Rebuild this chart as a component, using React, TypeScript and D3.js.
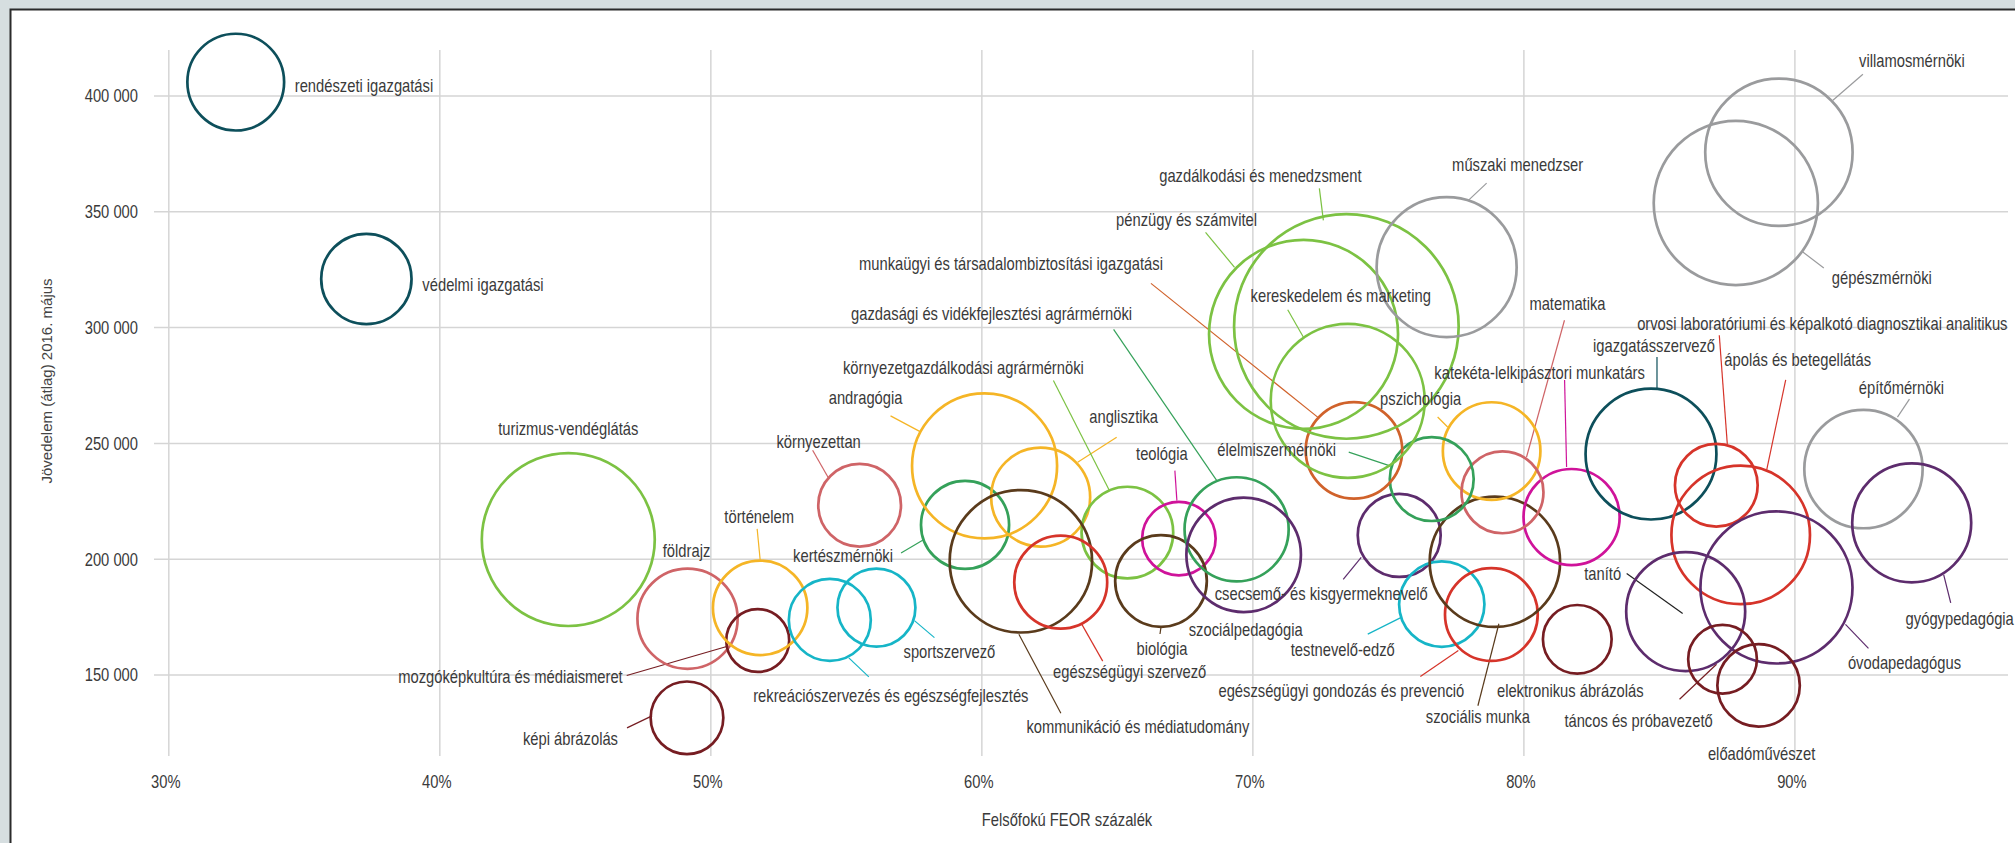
import React, { useRef, useEffect } from "react";
import * as d3 from "d3";

// szakok (majors)
const majors = [
    "rendészeti igazgatási",
    "védelmi igazgatási",
    "turizmus-vendéglátás",
    "földrajz",
    "képi ábrázolás",
    "mozgóképkultúra és médiaismeret",
    "történelem",
    "környezettan",
    "rekreációszervezés és egészségfejlesztés",
    "sportszervező",
    "kertészmérnöki",
    "andragógia",
    "anglisztika",
    "környezetgazdálkodási agrármérnöki",
    "kommunikáció és médiatudomány",
    "egészségügyi szervező",
    "teológia",
    "biológia",
    "gazdasági és vidékfejlesztési agrármérnöki",
    "szociálpedagógia",
    "csecsemő- és kisgyermeknevelő",
    "testnevelő-edző",
    "egészségügyi gondozás és prevenció",
    "szociális munka",
    "elektronikus ábrázolás",
    "katekéta-lelkipásztori munkatárs",
    "pszichológia",
    "matematika",
    "élelmiszermérnöki",
    "munkaügyi és társadalombiztosítási igazgatási",
    "gazdálkodási és menedzsment",
    "pénzügy és számvitel",
    "kereskedelem és marketing",
    "műszaki menedzser",
    "villamosmérnöki",
    "gépészmérnöki",
    "igazgatásszervező",
    "orvosi laboratóriumi és képalkotó diagnosztikai analitikus",
    "ápolás és betegellátás",
    "építőmérnöki",
    "gyógypedagógia",
    "óvodapedagógus",
    "tanító",
    "táncos és próbavezető",
    "előadóművészet",
];

// Felsőfokú FEOR százalék
const feorPct = [
    32.47, 37.29, 44.74, 49.14, 49.12, 51.73, 51.82, 55.49, 54.39, 56.11,
    59.38, 60.1, 62.17, 65.37, 61.44, 62.91, 67.27, 66.61, 69.4, 69.66,
    75.4, 76.97, 78.8, 78.93, 81.97, 81.76, 78.81, 79.21, 76.6, 73.73,
    73.45, 71.87, 73.5, 77.15, 89.41, 87.82, 84.69, 87.1, 88.0, 92.53,
    94.31, 89.32, 85.97, 87.33, 88.66,
];

// Jövedelem (átlag) 2016. május
const avgIncome = [
    406000, 321000, 208500, 174300, 131500, 164900, 179000, 223300, 173800, 179100,
    214800, 240300, 226800, 211500, 199100, 190100, 208900, 190600, 212900, 201900,
    210300, 180600, 176100, 198900, 165400, 218200, 246700, 228900, 234600, 247000,
    300500, 297100, 268400, 326100, 375700, 353800, 245400, 231900, 210500, 238900,
    215700, 187800, 177400, 156800, 145500,
];

// bubble size (relative number of graduates)
const graduates = [
    234, 204, 748, 251, 132, 99, 223, 171, 168, 152,
    194, 526, 245, 210, 507, 216, 135, 210, 271, 328,
    172, 182, 215, 425, 118, 231, 238, 168, 176, 233,
    1261, 893, 593, 490, 543, 674, 428, 171, 480, 350,
    354, 578, 354, 118, 170,
];

const xTicks = [30, 40, 50, 60, 70, 80, 90];
const yTicks = [150000, 200000, 250000, 300000, 350000, 400000];

const palette = {
    teal: "#0d4f5b",
    lightGreen: "#7cc243",
    green: "#35a15a",
    rose: "#cf6467",
    yellow: "#f5b526",
    darkRed: "#761d22",
    cyan: "#16b5c7",
    brown: "#5a3b1c",
    red: "#d6342a",
    magenta: "#cf139a",
    purple: "#5d2c6d",
    orange: "#d0622b",
    gray: "#9a9b9d",
};

const colorGroups: [keyof typeof palette, number[]][] = [
    ["teal", [0, 1, 36]],
    ["lightGreen", [2, 13, 30, 31, 32]],
    ["green", [10, 18, 28]],
    ["rose", [3, 7, 27]],
    ["yellow", [6, 11, 12, 26]],
    ["darkRed", [4, 5, 24, 43, 44]],
    ["cyan", [8, 9, 21]],
    ["brown", [14, 17, 23]],
    ["red", [15, 22, 37, 38]],
    ["magenta", [16, 25]],
    ["purple", [19, 20, 40, 41, 42]],
    ["orange", [29]],
    ["gray", [33, 34, 35, 39]],
];

// label placement relative to bubble centre: dx, dy, anchor, optional leader [x1, y1, x2, y2]
type Layout = [number, number, string, number[]?];
const labelLayout: Layout[] = [
    [59, 3, "start"],
    [56, 6, "start"],
    [0, -111, "middle"],
    [-1, -68, "middle"],
    [-69, 21, "end", [-60, 10, -35, -2]],
    [-135, 36, "end", [-131, 35, -31, 6]],
    [-1, -91, "middle", [-3, -79, 0, -48]],
    [-41, -64, "middle", [-47, -55, -31, -27]],
    [61, 76, "middle", [19, 38, 39, 57]],
    [73, 44, "middle", [38, 13, 58, 30]],
    [-122, 31, "middle", [-64, 28, -42, 15]],
    [-119, -68, "middle", [-94, -50, -64, -34]],
    [83, -81, "middle", [76, -60, 37, -35]],
    [-164, -165, "middle", [-74, -152, -18, -42]],
    [117, 165, "middle", [-2, 73, 40, 152]],
    [69, 89, "middle", [21, 42, 42, 79]],
    [-17, -85, "middle", [-4, -68, -2, -38]],
    [1, 68, "middle", [0, 46, -1, 53]],
    [-245, -216, "middle", [-123, -200, -20, -49]],
    [2, 75, "middle"],
    [-78, 58, "middle", [-56, 44, -38, 22]],
    [-99, 45, "middle", [-74, 30, -40, 13]],
    [-150, 76, "middle", [-71, 62, -33, 36]],
    [-17, 155, "middle", [-17, 144, 4, 62]],
    [-7, 51, "middle"],
    [-32, -145, "middle", [-7, -137, -5, -50]],
    [-71, -53, "middle", [-54, -34, -44, -24]],
    [65, -189, "middle", [62, -172, 24, -35]],
    [-155, -30, "middle", [-83, -27, -41, -13]],
    [-343, -187, "middle", [-203, -167, -36, -33]],
    [-86, -151, "middle", [-27, -138, -23, -106]],
    [-117, -115, "middle", [-98, -102, -69, -67]],
    [-7, -105, "middle", [-60, -91, -44, -63]],
    [71, -103, "middle", [40, -84, 22, -67]],
    [133, -92, "middle", [84, -78, 54, -52]],
    [146, 75, "middle", [88, 65, 67, 49]],
    [3, -109, "middle", [6, -97, 6, -66]],
    [106, -162, "middle", [3, -150, 11, -41]],
    [57, -175, "middle", [45, -155, 26, -65]],
    [38, -82, "middle", [46, -70, 34, -52]],
    [48, 96, "middle", [39, 80, 32, 52]],
    [128, 75, "middle", [92, 61, 69, 37]],
    [-83, -38, "middle", [-59, -38, -3, 2]],
    [-84, 61, "middle", [-43, 40, -6, 5]],
    [3, 68, "middle"],
];

const leaderColorOverride: { [key: string]: string } = { "tanító": "#222222" };

const FONT = "'Liberation Sans', Arial, Helvetica, sans-serif";

export default function App() {
    const chartRef = useRef<SVGSVGElement>(null);

    useEffect(() => {
        const width = 2015,
            height = 843;
        const svg = d3.select(chartRef.current).attr("width", width).attr("height", height);
        svg.selectAll("*").remove();

        const colorOf = new Map<number, string>();
        colorGroups.forEach(([key, idx]) => idx.forEach((i) => colorOf.set(i, palette[key])));

        const x = d3.scaleLinear().domain([30, 90]).range([168.8, 1794.9]);
        const y = d3.scaleLinear().domain([150000, 400000]).range([675, 96]);
        const r = d3.scaleSqrt().domain([0, 1000]).range([0, 100]);

        const fmt = d3.formatLocale({ decimal: ",", thousands: " ", grouping: [3], currency: ["", ""] }).format(",");

        // narrow text helper (condensed sans)
        const label = (g: any, px: number, py: number, str: string, anchor: string, size = 18) =>
            g
                .append("text")
                .attr("transform", `translate(${px},${py}) scale(0.82,1)`)
                .attr("text-anchor", anchor)
                .attr("dy", "0.36em")
                .style("font-family", FONT)
                .style("font-size", `${size}px`)
                .style("fill", "#3a3a3a")
                .text(str);

        // background + frame
        svg.append("rect").attr("width", width).attr("height", height).attr("fill", "#d6dee0");
        svg.append("rect")
            .attr("x", 10.5)
            .attr("y", 9.5)
            .attr("width", width + 20)
            .attr("height", height + 20)
            .attr("fill", "#ffffff")
            .attr("stroke", "#2b2b2b")
            .attr("stroke-width", 2);

        const grid = svg.append("g");
        grid.selectAll(".vgrid")
            .data(xTicks)
            .enter()
            .append("line")
            .attr("x1", (d) => x(d))
            .attr("x2", (d) => x(d))
            .attr("y1", 50)
            .attr("y2", 756)
            .attr("stroke", "#d5d5d5")
            .attr("stroke-width", 1.5);
        grid.selectAll(".hgrid")
            .data(yTicks)
            .enter()
            .append("line")
            .attr("x1", 154)
            .attr("x2", 2008)
            .attr("y1", (d) => y(d))
            .attr("y2", (d) => y(d))
            .attr("stroke", "#d5d5d5")
            .attr("stroke-width", 1.5);

        // tick labels
        const axes = svg.append("g");
        xTicks.forEach((t) => label(axes, x(t) - 3, 782, `${t}%`, "middle"));
        yTicks.forEach((t) => label(axes, 138, y(t), fmt(t), "end"));
        label(axes, 1067, 820, "Felsőfokú FEOR százalék", "middle");
        axes.append("text")
            .attr("transform", "translate(47,381) rotate(-90)")
            .attr("text-anchor", "middle")
            .attr("dy", "0.36em")
            .style("font-family", FONT)
            .style("font-size", "15px")
            .style("fill", "#444444")
            .text("Jövedelem (átlag) 2016. május");

        const data = majors.map((name, i) => ({
            name,
            cx: x(feorPct[i]),
            cy: y(avgIncome[i]),
            rad: r(graduates[i]),
            color: colorOf.get(i) || "#888",
            layout: labelLayout[i],
        }));

        // leader lines
        const leaders = svg.append("g");
        data.forEach((d) => {
            const ld = d.layout[3];
            if (!ld) return;
            leaders
                .append("line")
                .attr("x1", d.cx + ld[0])
                .attr("y1", d.cy + ld[1])
                .attr("x2", d.cx + ld[2])
                .attr("y2", d.cy + ld[3])
                .attr("stroke", leaderColorOverride[d.name] || d.color)
                .attr("stroke-width", 1.2);
        });

        // bubbles
        svg.append("g")
            .selectAll("circle")
            .data(data)
            .enter()
            .append("circle")
            .attr("cx", (d) => d.cx)
            .attr("cy", (d) => d.cy)
            .attr("r", (d) => d.rad)
            .attr("fill", "none")
            .attr("stroke", (d) => d.color)
            .attr("stroke-width", 2.7);

        // labels
        const labels = svg.append("g");
        data.forEach((d) => label(labels, d.cx + d.layout[0], d.cy + d.layout[1], d.name, d.layout[2]));
    }, []);

    return <svg ref={chartRef} style={{ position: "absolute", left: 0, top: 0, display: "block" }}></svg>;
}
